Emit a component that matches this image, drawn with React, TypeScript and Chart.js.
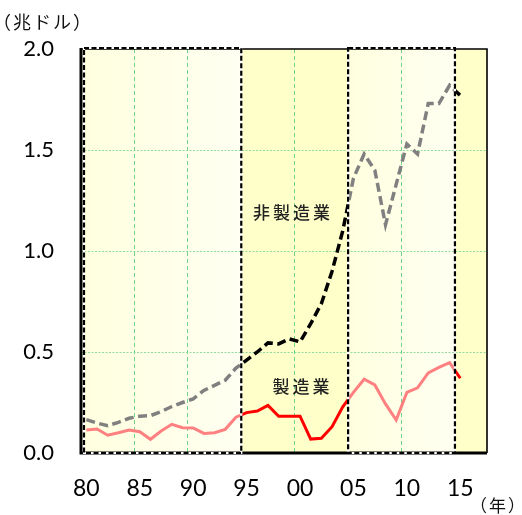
import React, { useEffect, useRef } from 'react';
import { Chart, registerables } from 'chart.js';

Chart.register(...registerables);

// ---- data ----
const YEARS = [
  1980, 1981, 1982, 1983, 1984, 1985, 1986, 1987, 1988, 1989,
  1990, 1991, 1992, 1993, 1994, 1995, 1996, 1997, 1998, 1999,
  2000, 2001, 2002, 2003, 2004, 2005, 2006, 2007, 2008, 2009,
  2010, 2011, 2012, 2013, 2014, 2015, 2016, 2017,
];

// 非製造業 (trillion USD)
const NON_MANUFACTURING = [
  0.165, 0.148, 0.135, 0.152, 0.172, 0.182, 0.185, 0.205, 0.23, 0.25,
  0.268, 0.31, 0.335, 0.36, 0.42, 0.46, 0.5, 0.545, 0.54, 0.565,
  0.55, 0.64, 0.74, 0.9, 1.1, 1.36, 1.48, 1.4, 1.13, 1.33,
  1.53, 1.48, 1.73, 1.73, 1.82, 1.77,
];

// 製造業 (trillion USD)
const MANUFACTURING = [
  0.114, 0.119, 0.088, 0.1, 0.114, 0.105, 0.068, 0.109, 0.142, 0.125,
  0.124, 0.097, 0.1, 0.117, 0.177, 0.2, 0.208, 0.236, 0.182, 0.182,
  0.182, 0.069, 0.073, 0.13, 0.229, 0.3, 0.365, 0.337, 0.243, 0.163,
  0.3, 0.323, 0.397, 0.424, 0.447, 0.37,
];

const X_TICK_YEARS = [1980, 1985, 1990, 1995, 2000, 2005, 2010, 2015];
const Y_MIN = 0;
const Y_MAX = 2;
const Y_STEP = 0.5;

// periods highlighted with dashed boxes (first year, last year)
const HIGHLIGHT_PERIODS: [number, number][] = [
  [1980, 1994],
  [2005, 2014],
];

const UNIT_Y = '（兆ドル）';
const UNIT_X = '（年）';
const LABEL_NON_MFG = { text: '非製造業', year: 1999.2, value: 1.19 };
const LABEL_MFG = { text: '製造業', year: 2000.1, value: 0.327 };

// ---- styles ----
const OUTER_BG = '#ffffc9';
const BOX_BG_LEFT = '#ffffdf';
const BOX_BG_RIGHT = '#fffff2';
const GRID_V = '#6fd38b';
const GRID_H = '#8edc9e';
const MFG_IN = '#ff8080';
const MFG_OUT = '#ff0000';
const NON_IN = '#808080';
const NON_OUT = '#000000';
const FONT_NUM = 'Lato, "Liberation Sans", sans-serif';
const FONT_JP = '"Noto Sans CJK JP", "Noto Sans", sans-serif';

function stepOf(x: any) {
  return x.getPixelForValue(1) - x.getPixelForValue(0);
}
function yearPixel(x: any, year: number) {
  return x.getPixelForValue(0) + (year - YEARS[0]) * stepOf(x);
}
function boxEdges(x: any, first: number, last: number) {
  const s = stepOf(x);
  return [yearPixel(x, first) - s / 2, yearPixel(x, last) + s / 2];
}

function regionGradient(chart: any, inColor: string, outColor: string) {
  const a = chart.chartArea;
  const x = chart.scales && chart.scales.x;
  if (!a || !x || !isFinite(a.left) || a.right <= a.left) return outColor;
  const g = chart.ctx.createLinearGradient(a.left, 0, a.right, 0);
  const frac = (p: number) => Math.min(1, Math.max(0, (p - a.left) / (a.right - a.left)));
  const stops: [number, boolean][] = [];
  for (const [f, l] of HIGHLIGHT_PERIODS) {
    const [x0, x1] = boxEdges(x, f, l);
    stops.push([frac(x0), true], [frac(x1), false]);
  }
  let inside = false;
  let last = 0;
  g.addColorStop(0, stops.length && stops[0][0] <= 0 ? inColor : outColor);
  for (const [p, enter] of stops) {
    g.addColorStop(Math.max(p, last), inside ? inColor : outColor);
    inside = enter;
    g.addColorStop(Math.max(p, last), inside ? inColor : outColor);
    last = Math.max(p, last);
  }
  g.addColorStop(1, inside ? inColor : outColor);
  return g;
}

const decorPlugin = {
  id: 'decor',
  beforeDraw(chart: any) {
    const { ctx, chartArea: a, scales } = chart;
    const x = scales.x;
    ctx.save();
    ctx.fillStyle = OUTER_BG;
    ctx.fillRect(a.left, a.top, a.width, a.height);
    for (const [f, l] of HIGHLIGHT_PERIODS) {
      const [x0, x1] = boxEdges(x, f, l);
      const g = ctx.createLinearGradient(x0, 0, x1, 0);
      g.addColorStop(0, BOX_BG_LEFT);
      g.addColorStop(1, BOX_BG_RIGHT);
      ctx.fillStyle = g;
      ctx.fillRect(x0, a.top, x1 - x0, a.height);
    }
    ctx.restore();
  },
  afterDatasetsDraw(chart: any) {
    const { ctx, chartArea: a, scales } = chart;
    const x = scales.x;
    const y = scales.y;
    ctx.save();
    // frame
    ctx.strokeStyle = '#000';
    ctx.lineWidth = 1.6;
    ctx.beginPath();
    ctx.moveTo(a.left, a.top);
    ctx.lineTo(a.right, a.top);
    ctx.lineTo(a.right, a.bottom);
    ctx.stroke();
    ctx.lineWidth = 3;
    ctx.beginPath();
    ctx.moveTo(a.left, a.top - 1);
    ctx.lineTo(a.left, a.bottom);
    ctx.lineTo(a.right, a.bottom);
    ctx.stroke();

    // dashed boxes
    for (const [f, l] of HIGHLIGHT_PERIODS) {
      let [x0, x1] = boxEdges(x, f, l);
      if (x0 < a.left + 3) x0 = a.left + 3;
      const top = a.top - 1;
      const bottom = a.bottom;
      const path = () => {
        ctx.beginPath();
        ctx.rect(x0, top, x1 - x0, bottom - top);
      };
      ctx.setLineDash([]);
      ctx.strokeStyle = '#ffffff';
      ctx.lineWidth = 2.2;
      path();
      ctx.stroke();
      ctx.setLineDash([5, 2.5]);
      ctx.strokeStyle = '#000';
      path();
      ctx.stroke();
    }
    ctx.setLineDash([]);

    // series labels
    ctx.fillStyle = '#222';
    ctx.font = `500 17px ${FONT_JP}`;
    ctx.textAlign = 'center';
    ctx.textBaseline = 'middle';
    (ctx as any).letterSpacing = '3px';
    for (const lab of [LABEL_NON_MFG, LABEL_MFG]) {
      ctx.fillText(lab.text, yearPixel(x, lab.year) + 1.5, y.getPixelForValue(lab.value));
    }
    (ctx as any).letterSpacing = '0px';
    ctx.restore();
  },
  afterDraw(chart: any) {
    const { ctx } = chart;
    ctx.save();
    ctx.fillStyle = '#111';
    ctx.textBaseline = 'middle';
    ctx.textAlign = 'left';
    ctx.font = `18px ${FONT_JP}`;
    (ctx as any).letterSpacing = '2px';
    ctx.fillText(UNIT_Y, -7, 22);
    ctx.font = `17px ${FONT_JP}`;
    ctx.fillText(UNIT_X, 470, 506);
    (ctx as any).letterSpacing = '0px';
    ctx.restore();
  },
};

export default function App() {
  const ref = useRef<HTMLCanvasElement | null>(null);

  useEffect(() => {
    const canvas = ref.current;
    if (!canvas) return;
    const chart = new Chart(canvas, {
      type: 'line',
      data: {
        labels: YEARS.map(String),
        datasets: [
          {
            label: '非製造業',
            data: NON_MANUFACTURING,
            borderColor: (c: any) => regionGradient(c.chart, NON_IN, NON_OUT),
            borderWidth: 3.5,
            borderDash: [9, 4.5],
            borderCapStyle: 'butt',
            pointRadius: 0,
            tension: 0,
            fill: false,
          },
          {
            label: '製造業',
            data: MANUFACTURING,
            borderColor: (c: any) => regionGradient(c.chart, MFG_IN, MFG_OUT),
            borderWidth: 3,
            pointRadius: 0,
            tension: 0,
            fill: false,
          },
        ],
      },
      options: {
        responsive: false,
        animation: false,
        devicePixelRatio: 1,
        layout: { padding: { top: 49, right: 35, left: 0, bottom: 0 } },
        plugins: { legend: { display: false }, tooltip: { enabled: false } },
        scales: {
          x: {
            type: 'category',
            offset: true,
            grid: {
              offset: true,
              drawTicks: false,
              lineWidth: 1,
              color: (c: any) =>
                c.index !== undefined && c.index > 0 && c.index % 5 === 0 ? GRID_V : 'rgba(0,0,0,0)',
            },
            border: { display: false, dash: [4, 3] },
            ticks: {
              autoSkip: false,
              maxRotation: 0,
              padding: 22,
              color: '#000',
              font: { family: FONT_NUM, size: 23 },
              callback: (_v: any, i: number) =>
                X_TICK_YEARS.includes(YEARS[i]) ? String(YEARS[i]).slice(2) : '',
            },
            afterFit: (s: any) => {
              s.height = 62;
            },
          },
          y: {
            min: Y_MIN,
            max: Y_MAX,
            grid: {
              drawTicks: false,
              lineWidth: 1,
              color: (c: any) =>
                c.tick && c.tick.value > Y_MIN && c.tick.value < Y_MAX ? GRID_H : 'rgba(0,0,0,0)',
            },
            border: { display: false, dash: [2, 1.5] },
            ticks: {
              stepSize: Y_STEP,
              padding: 27,
              color: '#000',
              font: { family: FONT_NUM, size: 22 },
              callback: (v: any) => Number(v).toFixed(1),
            },
            afterFit: (s: any) => {
              s.width = 81;
            },
          },
        },
      },
      plugins: [decorPlugin],
    } as any);
    return () => chart.destroy();
  }, []);

  return (
    <div style={{ position: 'absolute', left: 0, top: 0, width: 522, height: 515, background: '#fff' }}>
      <canvas ref={ref} width={522} height={515} style={{ display: 'block' }} />
    </div>
  );
}
